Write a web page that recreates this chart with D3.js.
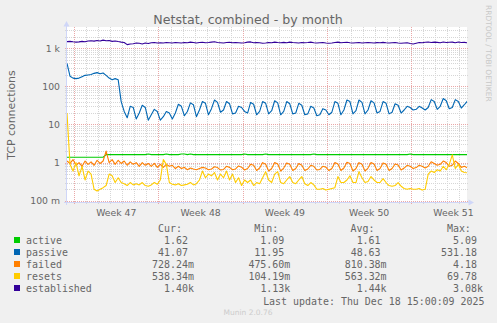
<!DOCTYPE html>
<html><head><meta charset="utf-8">
<script src="https://cdn.jsdelivr.net/npm/d3@7"></script>
<style>
html,body{margin:0;padding:0;background:#f0f0f0;}
svg{display:block;}
text{font-family:"DejaVu Sans",sans-serif;fill:#666;}
.mono{font-family:"DejaVu Sans Mono",monospace;}
</style></head><body>
<svg id="c" width="497" height="323"></svg>
<script>
const title = "Netstat, combined - by month";
const yLabel = "TCP connections";
const seriesNames = ["active","passive","failed","resets","established"];
const seriesColors = ["#00cc00","#0066b3","#ff8000","#ffcc00","#330099"];
const startTime = Date.UTC(2025,10,15,9,40);
const endTime = Date.UTC(2025,11,18,15,0);
const stepHours = 6;
const yMin = 0.0925, yMax = 3620;

const active = [
1.38,1.38,1.38,1.38, 1.38,1.38,1.38,1.38, 1.38,1.38,1.38,1.38, 1.38,1.62,1.62,1.62,
1.62,1.62,1.62,1.62, 1.62,1.62,1.62,1.62, 1.62,1.62,1.62,1.68, 1.62,1.62,1.62,1.62,
1.62,1.68,1.62,1.62, 1.62,1.62,1.68,1.68, 1.62,1.68,1.62,1.62, 1.62,1.62,1.62,1.62,
1.62,1.62,1.62,1.62, 1.62,1.62,1.62,1.62, 1.62,1.62,1.62,1.68, 1.62,1.62,1.62,1.62,
1.62,1.62,1.68,1.62, 1.62,1.62,1.62,1.62, 1.62,1.62,1.62,1.62, 1.62,1.62,1.62,1.62,
1.62,1.62,1.68,1.62, 1.62,1.62,1.62,1.62, 1.62,1.62,1.62,1.62, 1.62,1.62,1.62,1.62,
1.62,1.62,1.62,1.62, 1.62,1.62,1.62,1.62, 1.62,1.62,1.62,1.62, 1.62,1.62,1.62,1.62,
1.62,1.62,1.68,1.62, 1.62,1.62,1.62,1.62, 1.62,1.62,1.62,1.62, 1.62,1.62,1.62,1.62,
1.62,1.62,1.62,1.62, 1.62,1.62];

const passive = [
400,185,165,160, 165,180,195,200, 205,220,230,215, 225,195,165,150,
160,150,40,22, 15,30,28,14, 20,32,28,13, 18,25,22,13,
16,22,20,14, 20,34,30,17, 22,37,33,16, 24,40,36,18,
26,44,38,21, 24,40,35,19, 20,30,28,22, 20,38,34,18,
22,40,36,19, 23,42,37,18, 22,40,35,19, 20,36,32,18,
19,30,27,17, 18,26,24,18, 21,40,36,18, 24,44,40,19,
23,44,38,19, 24,42,37,20, 22,40,36,19, 21,35,32,20,
24,30,28,24, 25,30,27,24, 28,45,40,25, 30,48,42,26,
28,45,40,27, 33,41];

const failed = [
1.1,0.95,1.2,0.85, 1.0,0.8,1.1,0.9, 1.05,0.85,1.15,0.95, 1.1,2.0,1.0,1.2,
0.9,1.15,0.95,1.1, 0.85,1.05,0.9,1.0, 0.8,1.0,0.85,0.95, 0.8,0.95,0.75,0.9,
0.75,0.9,0.8,0.85, 0.7,0.8,0.7,0.75, 0.65,0.72,0.68,0.65, 0.7,0.75,0.72,0.65,
0.68,0.78,0.74,0.64, 0.66,0.8,0.75,0.65, 0.68,0.82,0.76,0.64, 0.7,0.9,0.85,0.62,
0.72,1.0,0.9,0.6, 0.7,1.0,0.92,0.6, 0.72,0.98,0.9,0.62, 0.7,0.95,0.85,0.62,
0.68,0.85,0.8,0.64, 0.66,0.8,0.76,0.62, 0.7,1.0,0.92,0.62, 0.72,1.02,0.95,0.6,
0.7,1.0,0.9,0.6, 0.72,1.0,0.92,0.62, 0.7,0.98,0.9,0.62, 0.7,0.92,0.86,0.64,
0.72,0.85,0.8,0.7, 0.74,0.85,0.8,0.72, 0.8,1.05,0.95,0.85, 0.9,1.1,1.0,0.8,
0.85,1.1,0.95,0.75, 0.8,0.73];

const resets = [
20,0.9,0.6,1.0, 0.45,0.8,0.35,0.6, 0.5,0.2,0.18,0.2, 0.22,0.25,0.5,0.45,
0.3,0.4,0.3,0.28, 0.25,0.3,0.26,0.28, 0.26,0.3,0.25,0.24, 0.26,0.3,0.27,0.35,
1.2,0.9,0.3,0.27, 0.26,0.28,0.25,0.26, 0.27,0.3,0.26,0.28, 0.35,0.6,0.4,0.5,
0.45,0.55,0.35,0.5, 0.4,0.6,0.35,0.5, 0.3,0.4,0.25,0.35, 0.3,0.35,0.25,0.3,
0.28,0.4,0.58,0.35, 0.3,0.5,0.58,0.3, 0.28,0.35,0.43,0.3, 0.28,0.35,0.43,0.28,
0.25,0.3,0.26,0.2, 0.2,0.21,0.19,0.2, 0.21,0.22,0.43,0.3, 0.3,0.35,0.45,0.3,
0.3,0.58,0.4,0.3, 0.32,0.43,0.35,0.3, 0.3,0.38,0.3,0.25, 0.24,0.25,0.3,0.24,
0.21,0.2,0.21,0.2, 0.2,0.21,0.19,0.2, 0.5,0.6,0.55,0.65, 0.6,0.8,0.65,0.9,
1.6,0.7,0.9,0.6, 0.55,0.54];

const established = [
1500,1520,1480,1450, 1470,1520,1480,1550, 1580,1540,1600,1560, 1640,1580,1600,1520,
1560,1500,1450,1420, 1250,1300,1320,1380, 1350,1300,1380,1330, 1400,1420,1380,1400,
1380,1420,1400,1380, 1420,1400,1380,1420, 1400,1450,1420,1380, 1420,1440,1400,1420,
1450,1480,1420,1400, 1380,1420,1440,1400, 1420,1400,1380,1400, 1450,1470,1400,1420,
1400,1350,1380,1420, 1400,1450,1420,1400, 1430,1400,1450,1420, 1400,1380,1420,1400,
1420,1450,1400,1380, 1400,1420,1380,1360, 1380,1420,1450,1400, 1420,1440,1400,1380,
1400,1420,1380,1400, 1420,1400,1380,1410, 1400,1430,1400,1380, 1400,1420,1380,1360,
1380,1400,1340,1300, 1360,1420,1400,1440, 1460,1420,1450,1430, 1400,1460,1420,1440,
1450,1400,1460,1420, 1430,1400];

const weekStarts = ["2025-11-16","2025-11-23","2025-11-30","2025-12-07","2025-12-14"];
const weekLabels = ["Week 47","Week 48","Week 49","Week 50","Week 51"];
const yTickValues = [0.1,1,10,100,1000];
const yTickLabels = ["100 m","1","10","100","1 k"];
const legendHeaders = ["Cur:","Min:","Avg:","Max:"];
const curVals = ["1.62","41.07","728.24m","538.34m","1.40k"];
const minVals = ["1.09","11.95","475.60m","104.19m","1.13k"];
const avgVals = ["1.61","48.63","810.38m","563.32m","1.44k"];
const maxVals = ["5.09","531.18","4.18","69.78","3.08k"];
const lastUpdate = "Last update: Thu Dec 18 15:00:09 2025";
const footer = "Munin 2.0.76";
const watermark = "RRDTOOL / TOBI OETIKER";

const seriesData = [active, passive, failed, resets, established];

const W = 497, H = 323;
const P = {left:67, right:467, top:27, bottom:202};
const svg = d3.select("#c");
const x = d3.scaleUtc().domain([new Date(startTime), new Date(endTime)]).range([P.left, P.right]);
const y = d3.scaleLog().domain([yMin, yMax]).range([P.bottom, P.top]);
const stepMs = stepHours*3600*1000;

svg.append("rect").attr("width",W).attr("height",H).attr("fill","#f0f0f0");
svg.append("rect").attr("x",P.left).attr("y",P.top).attr("width",P.right-P.left).attr("height",P.bottom-P.top).attr("fill","#ffffff");

const minorColor = "#d6d6d6";
const majorColor = "#eaa8a8";
const snap = v => Math.round(v) + 0.5;

const minorY = [];
for (let e=-2; e<=3; e++) for (let m=2; m<=9; m++) { const v = m*Math.pow(10,e); if (v>yMin && v<yMax) minorY.push(v); }
const g = svg.append("g").attr("shape-rendering","crispEdges");
g.selectAll(".gyn").data(minorY).join("line")
  .attr("x1",P.left-2).attr("x2",P.right+2)
  .attr("y1",d=>snap(y(d))).attr("y2",d=>snap(y(d)))
  .attr("stroke",minorColor).attr("stroke-dasharray","1,1");
const weekDates = weekStarts.map(s=>new Date(s+"T00:00:00Z"));
const weekSet = new Set(weekDates.map(d=>+d));
const days = d3.utcDay.range(new Date(startTime), new Date(endTime)).filter(d=>!weekSet.has(+d));
g.selectAll(".gxn").data(days).join("line")
  .attr("x1",d=>snap(x(d))).attr("x2",d=>snap(x(d)))
  .attr("y1",P.top).attr("y2",P.bottom+2)
  .attr("stroke",minorColor).attr("stroke-dasharray","1,1");
g.selectAll(".gym").data(yTickValues).join("line")
  .attr("x1",P.left-2).attr("x2",P.right+2)
  .attr("y1",d=>snap(y(d))).attr("y2",d=>snap(y(d)))
  .attr("stroke",majorColor).attr("stroke-dasharray","1,1");
g.selectAll(".gxm").data(weekDates).join("line")
  .attr("x1",d=>snap(x(d))).attr("x2",d=>snap(x(d)))
  .attr("y1",P.top).attr("y2",P.bottom+2)
  .attr("stroke",majorColor).attr("stroke-dasharray","1,1");

svg.selectAll(".yl").data(yTickValues).join("text")
  .attr("x",60).attr("y",d=>y(d)+3.4).attr("text-anchor","end")
  .attr("font-size","9.3px").text((d,i)=>yTickLabels[i]);
svg.selectAll(".xl").data(weekDates).join("text")
  .attr("x",d=>x(new Date(+d + 3.5*86400000))).attr("y",216).attr("text-anchor","middle")
  .attr("font-size","9.3px").text((d,i)=>weekLabels[i]);

svg.append("clipPath").attr("id","clip").append("rect")
  .attr("x",P.left).attr("y",P.top).attr("width",P.right-P.left).attr("height",P.bottom-P.top);
const line = d3.line().x((d,i)=>x(new Date(startTime + i*stepMs))).y(d=>y(d));
const lg = svg.append("g").attr("clip-path","url(#clip)");
seriesData.forEach((s,k)=>{
  lg.append("path").datum(s).attr("d",line).attr("fill","none")
    .attr("stroke",seriesColors[k]).attr("stroke-width",1.1).attr("stroke-linejoin","round");
});

const axisColor = "#CFD6F8";
svg.append("line").attr("x1",66.5).attr("x2",66.5).attr("y1",205).attr("y2",25).attr("stroke",axisColor);
svg.append("path").attr("d","M63.5,26.5 L69.5,26.5 L66.5,21 Z").attr("fill",axisColor);
svg.append("line").attr("x1",64).attr("x2",470).attr("y1",202.5).attr("y2",202.5).attr("stroke",axisColor);
svg.append("path").attr("d","M468.5,199.5 L468.5,205.5 L474,202.5 Z").attr("fill",axisColor);

svg.append("text").attr("x",248).attr("y",24).attr("text-anchor","middle").attr("font-size","12.6px").text(title);
svg.append("text").attr("transform","translate(15,115) rotate(-90)").attr("text-anchor","middle").attr("font-size","10.9px").text(yLabel);
svg.append("text").attr("transform","translate(485.5,5) rotate(90)").attr("text-anchor","start").attr("font-size","7.5px").style("fill","#c8c8c8").text(watermark);

const cw = 6.02;
const colRight = [194, 290.3, 386.6, 482.9];
const fs = "9.95px";
legendHeaders.forEach((h,c)=>{
  svg.append("text").attr("class","mono").attr("x",colRight[c]-2*cw).attr("y",231.5)
    .attr("text-anchor","end").attr("font-size",fs).text(h);
});
const cols = [curVals, minVals, avgVals, maxVals];
seriesNames.forEach((n,r)=>{
  const by = 243.5 + r*12;
  svg.append("rect").attr("x",14).attr("y",by-6.5).attr("width",6).attr("height",6).attr("fill",seriesColors[r]);
  svg.append("text").attr("class","mono").attr("x",26).attr("y",by).attr("font-size",fs).text(n);
  cols.forEach((vals,c)=>{
    const v = vals[r];
    const hasSuf = /[mk]$/.test(v);
    svg.append("text").attr("class","mono").attr("x",hasSuf?colRight[c]:colRight[c]-cw).attr("y",by)
      .attr("text-anchor","end").attr("font-size",fs).text(v);
  });
});
svg.append("text").attr("class","mono").attr("x",484.5).attr("y",304.5).attr("text-anchor","end").attr("font-size",fs).text(lastUpdate);
svg.append("text").attr("x",248).attr("y",315).attr("text-anchor","middle").attr("font-size","7.5px").style("fill","#cccccc").text(footer);
</script>
</body></html>
